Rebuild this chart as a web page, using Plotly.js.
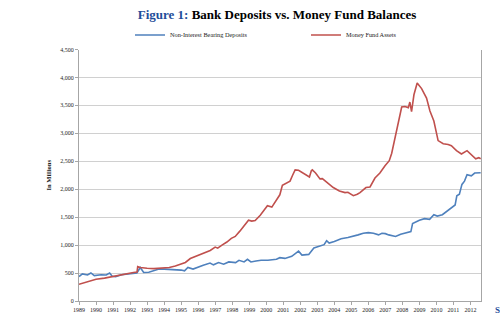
<!DOCTYPE html>
<html>
<head>
<meta charset="utf-8">
<script src="https://cdn.plot.ly/plotly-3.0.1.min.js"></script>
<style>html,body{margin:0;padding:0;background:#fff;}#chart{width:500px;height:322px;}</style>
</head>
<body>
<div id="chart"></div>
<script>
// Money Fund Assets (red), decimal years
const fundYears = [1989.0,1989.5,1990.0,1990.5,1990.75,1991.0,1991.5,1991.92,1992.2,1992.41,1992.45,1992.6,1992.8,1993.0,1993.4,1993.88,1994.3,1994.66,1994.95,1995.25,1995.54,1995.8,1996.13,1996.4,1996.71,1997.0,1997.15,1997.4,1997.69,1997.95,1998.18,1998.45,1998.67,1998.96,1999.15,1999.35,1999.65,1999.9,2000.07,2000.33,2000.6,2000.8,2000.95,2001.15,2001.4,2001.55,2001.7,2001.9,2002.1,2002.28,2002.54,2002.65,2002.71,2002.9,2003.16,2003.3,2003.55,2003.94,2004.3,2004.63,2004.8,2005.12,2005.35,2005.51,2005.86,2006.1,2006.39,2006.68,2006.98,2007.23,2007.37,2007.66,2007.96,2008.15,2008.35,2008.44,2008.54,2008.68,2008.87,2009.13,2009.42,2009.62,2009.85,2010.1,2010.4,2010.69,2010.88,2011.18,2011.47,2011.8,2012.06,2012.31,2012.49,2012.6];
const fundValues = [300,350,390,410,425,450,475,495,510,520,615,600,590,585,580,595,600,625,660,690,760,790,830,860,905,965,945,1000,1055,1120,1155,1250,1330,1445,1430,1440,1535,1640,1705,1680,1795,1900,2070,2110,2145,2250,2345,2340,2300,2260,2220,2330,2345,2290,2185,2190,2125,2030,1970,1940,1945,1885,1910,1940,2030,2040,2200,2290,2420,2510,2640,3050,3470,3480,3460,3560,3390,3690,3900,3800,3630,3400,3220,2870,2815,2800,2780,2690,2630,2690,2610,2545,2565,2545];

// Non-Interest Bearing Deposits (blue)
const depYears = [1989.0,1989.2,1989.5,1989.7,1989.9,1990.3,1990.6,1990.8,1990.95,1991.15,1991.5,1991.9,1992.4,1992.6,1992.8,1993.1,1993.7,1994.0,1994.7,1995.0,1995.2,1995.4,1995.7,1996.0,1996.3,1996.7,1996.9,1997.2,1997.5,1997.8,1998.2,1998.4,1998.7,1998.9,1999.1,1999.4,1999.7,2000.1,2000.4,2000.6,2000.8,2001.1,2001.5,2001.9,2002.1,2002.5,2002.8,2003.1,2003.4,2003.55,2003.7,2004.0,2004.4,2004.8,2005.1,2005.4,2005.7,2006.0,2006.3,2006.6,2006.8,2007.0,2007.2,2007.6,2007.9,2008.2,2008.5,2008.6,2009.0,2009.3,2009.6,2009.85,2010.05,2010.35,2010.6,2010.8,2011.1,2011.2,2011.35,2011.5,2011.65,2011.8,2012.05,2012.25,2012.6];
const depValues = [437,484,466,502,455,470,466,502,443,437,470,490,502,600,510,515,571,570,565,553,540,600,571,612,640,680,647,687,658,699,687,729,699,746,699,717,729,729,746,746,775,762,799,891,822,834,950,979,1008,1078,1037,1066,1113,1136,1166,1183,1212,1224,1212,1183,1212,1205,1183,1154,1195,1224,1241,1386,1445,1474,1462,1544,1520,1544,1603,1661,1719,1882,1911,2086,2145,2260,2240,2290,2295];

const yearTicks = [1989,1990,1991,1992,1993,1994,1995,1996,1997,1998,1999,2000,2001,2002,2003,2004,2005,2006,2007,2008,2009,2010,2011,2012];
const yTicks = [0,500,1000,1500,2000,2500,3000,3500,4000,4500];

const serif = "Liberation Serif, Times New Roman, serif";

const traces = [
  {x: depYears, y: depValues, type: 'scatter', mode: 'lines', name: 'Non-Interest Bearing Deposits',
   line: {color: '#4F81BD', width: 1.6}, legend: 'legend'},
  {x: fundYears, y: fundValues, type: 'scatter', mode: 'lines', name: 'Money Fund Assets',
   line: {color: '#C0504D', width: 1.6}, legend: 'legend2'}
];

const legendCommon = {orientation: 'h', yref: 'container', y: 1 - 35/322, yanchor: 'middle',
  xref: 'container', xanchor: 'left', font: {family: serif, size: 6.3, color: '#222'},
  bgcolor: 'rgba(0,0,0,0)', itemwidth: 30, tracegroupgap: 0};

const layout = {
  width: 500, height: 322,
  margin: {l: 79, r: 19, t: 44, b: 21},
  paper_bgcolor: '#fff', plot_bgcolor: '#fff',
  showlegend: true,
  title: {text: '<span style="color:#1F4E9A">Figure 1:</span> Bank Deposits vs. Money Fund Balances',
    font: {family: serif, size: 13, color: '#000', weight: 'bold'},
    x: 277/500, xanchor: 'center', xref: 'container', y: 1 - 14/322, yref: 'container', yanchor: 'middle'},
  legend: Object.assign({}, legendCommon, {x: 130/500}),
  legend2: Object.assign({}, legendCommon, {x: 306/500}),
  xaxis: {range: [1989, 2012.62], tickmode: 'array', tickvals: yearTicks, ticktext: yearTicks.map(String),
    tickangle: 0, showgrid: false, zeroline: false, showline: true, linecolor: '#A6A6A6', linewidth: 1,
    ticks: 'outside', ticklen: 3, tickcolor: '#A6A6A6',
    tickfont: {family: serif, size: 6, color: '#222'}},
  yaxis: {range: [0, 4500], tickmode: 'array', tickvals: yTicks, tickformat: ',d',
    showgrid: true, gridcolor: '#D0D0D0', gridwidth: 1, zeroline: false,
    showline: true, mirror: true, linecolor: '#A6A6A6', linewidth: 1,
    ticks: 'outside', ticklen: 3, tickcolor: '#A6A6A6',
    tickfont: {family: serif, size: 6, color: '#222'},
    title: {text: 'In Millions', font: {family: serif, size: 6.5, color: '#222', weight: 'bold'}, standoff: 8}},
  annotations: [
    {text: 'S', xref: 'paper', yref: 'paper', x: (493-79)/402, y: -9/257, xanchor: 'left', yanchor: 'middle',
     showarrow: false, font: {family: serif, size: 9, color: '#1F4E9A', weight: 'bold'}}
  ]
};

Plotly.newPlot('chart', traces, layout, {displayModeBar: false, staticPlot: true});
</script>
</body>
</html>
